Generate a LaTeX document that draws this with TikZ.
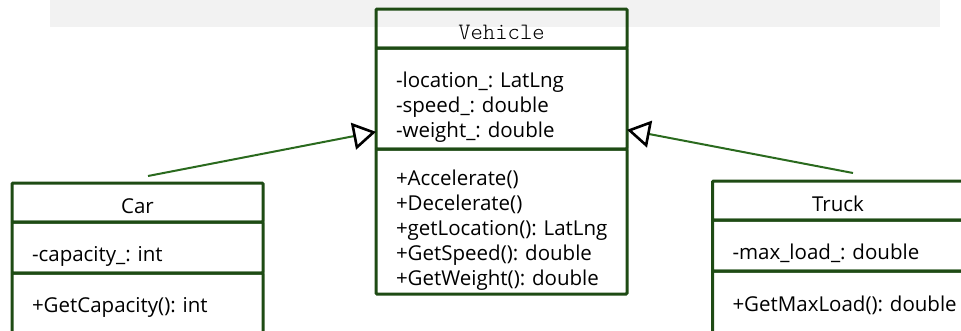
\documentclass[tikz,border=0pt]{standalone}
\usepackage{fontspec}
\setmainfont{Open Sans}
\setmonofont{Latin Modern Mono Light}
\usepackage{tikz}
\usetikzlibrary{positioning,calc,arrows.meta}

\definecolor{umlgreen}{HTML}{1E4B14}
\definecolor{linkgreen}{HTML}{2A6A1E}
\definecolor{bandgray}{HTML}{F2F2F2}
\frenchspacing

\begin{document}
\begin{tikzpicture}[x=1pt,y=-1pt]
    % `compartment' is one part of a class box (name, fields or methods).
    % `classname' is the top part, `members' the parts below it.
    % `inherit' is the generalisation link with an open triangle.
    \tikzstyle{compartment} = [draw=umlgreen,line width=3pt,rounded corners=1pt,
      minimum width=251pt,outer sep=0pt,inner xsep=20pt,text width=211pt,
      font=\fontsize{20.5}{25}\selectfont,
      execute at begin node={\hyphenpenalty=10000\exhyphenpenalty=10000}]
    \tikzstyle{classname} = [compartment,minimum height=39pt,align=center,
      text height=21pt,text depth=0pt]
    \tikzstyle{members} = [compartment,align=left]
    \tikzstyle{inherit} = [draw=linkgreen,line width=2pt,
      -{Triangle[open,length=23pt,width=27pt,line width=2.6pt,color=black]}]
    %
    \useasboundingbox (0,0) rectangle (961,330);
    \clip (0,0) rectangle (961,330);
    \fill[bandgray] (50,0) rectangle (940,27);

    % Vehicle
    \node[classname,anchor=north,font=\fontsize{23.5}{25}\ttfamily] (vname) at (501.5,9) {Vehicle};
    \node[members,minimum height=101pt,below=0pt of vname] (vattr)
      {\rule{0pt}{32pt}-location\_: LatLng\\ -speed\_: double\\ -weight\_: double};
    \node[members,minimum height=145pt,below=0pt of vattr] (vops)
      {\rule{0pt}{33pt}+Accelerate()\\ +Decelerate()\\ +getLocation():~LatLng\\ +GetSpeed(): double\\ +GetWeight(): double};

    % Car
    \node[classname,anchor=north] (cname) at (137.5,183) {Car};
    \node[members,minimum height=51pt,below=0pt of cname] (cattr) {\rule{0pt}{33pt}-capacity\_: int};
    \node[members,minimum height=68pt,below=0pt of cattr] (cops) {+GetCapacity(): int};

    % Truck
    \node[classname,anchor=north] (tname) at (838,181) {Truck};
    \node[members,minimum height=51pt,below=0pt of tname] (tattr) {\rule{0pt}{31pt}-max\_load\_: double};
    \node[members,minimum height=68pt,below=0pt of tattr] (tops) {+GetMaxLoad():~double};

    % links
    \coordinate (carlink) at ($(cname.north)+(10.5,-7)$);
    \coordinate (trucklink) at ($(tname.north)+(15,-8)$);
    \draw[inherit] (carlink) -- ($(vattr.south west)!0.17!(vattr.north west)$);
    \draw[inherit] (trucklink) -- ($(vattr.south east)!0.19!(vattr.north east)$);
\end{tikzpicture}
\end{document}
